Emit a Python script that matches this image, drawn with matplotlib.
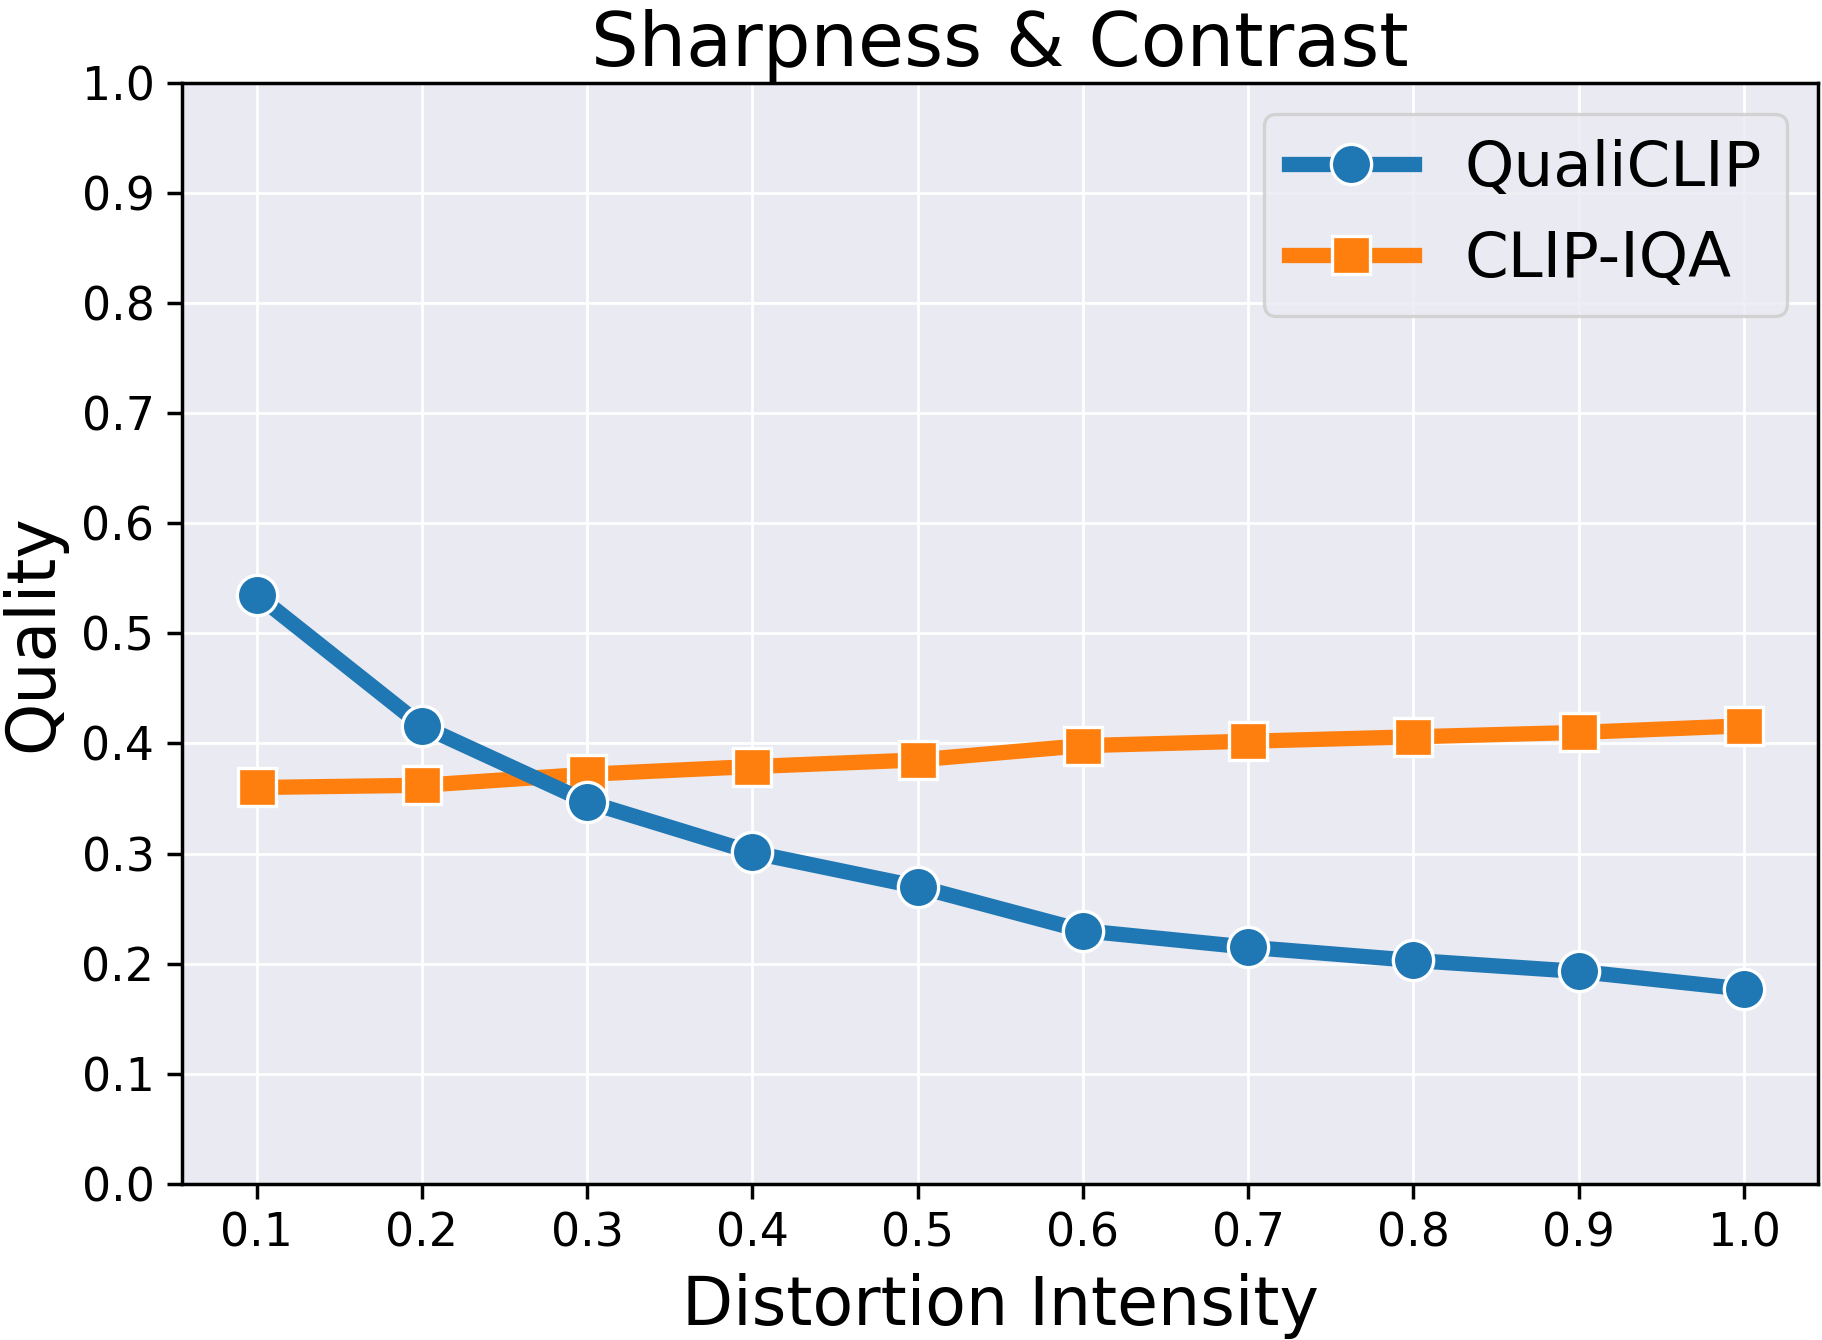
"""
Quality vs distortion intensity, sharpness & contrast.
QualiCLIP against CLIP-IQA.
"""
import matplotlib
matplotlib.use("Agg")
import matplotlib.pyplot as plt

BG_GRID  = "#EAEAF2"
BLUE     = "#1f77b4"
ORANGE   = "#ff7f0e"

plt.rcParams.update({
    "font.family":       "DejaVu Sans",
    "axes.facecolor":    BG_GRID,
    "axes.edgecolor":    "black",
    "axes.linewidth":    1.25,
    "axes.grid":         True,
    "grid.color":        "white",
    "grid.linewidth":    1.0,
    "xtick.major.size":  5.5,
    "ytick.major.size":  5.5,
    "xtick.major.width": 1.25,
    "ytick.major.width": 1.25,
    "xtick.major.pad":   4.5,
    "ytick.major.pad":   4.5,
    "xtick.labelsize":   16.5,
    "ytick.labelsize":   16.5,
})

intensity = [0.1, 0.2, 0.3, 0.4, 0.5, 0.6, 0.7, 0.8, 0.9, 1.0]
qualiclip = [0.535, 0.416, 0.347, 0.301, 0.270, 0.230, 0.215, 0.203, 0.193, 0.177]
clip_iqa  = [0.360, 0.362, 0.372, 0.379, 0.385, 0.398, 0.402, 0.406, 0.410, 0.416]

fig = plt.figure(figsize=(9.11, 6.70), dpi=200)
ax = fig.add_axes([0.1, 0.1164, 0.898, 0.822])
ax.set_axisbelow(True)

l1, = ax.plot(intensity, qualiclip, color=BLUE, lw=5.5, marker="o", ms=14.5,
              mec="white", mew=1.2, label="QualiCLIP", zorder=4)
l2, = ax.plot(intensity, clip_iqa, color=ORANGE, lw=5.5, marker="s", ms=13.5,
              mec="white", mew=1.2, label="CLIP-IQA", zorder=3)

ax.set_ylim(0, 1.0)
ax.set_xticks(intensity)
ax.set_yticks([i / 10 for i in range(11)])
ax.set_xlabel("Distortion Intensity", fontsize=24, labelpad=6)
ax.set_ylabel("Quality", fontsize=24, labelpad=5.5)
ax.set_title("Sharpness & Contrast", fontsize=27)

leg = ax.legend(handles=[l1, l2], loc="upper right", fontsize=22.6,
                framealpha=0.8, edgecolor="#cccccc", fancybox=True)
leg.get_frame().set_linewidth(1.2)

fig.savefig("out.png", dpi=200)
